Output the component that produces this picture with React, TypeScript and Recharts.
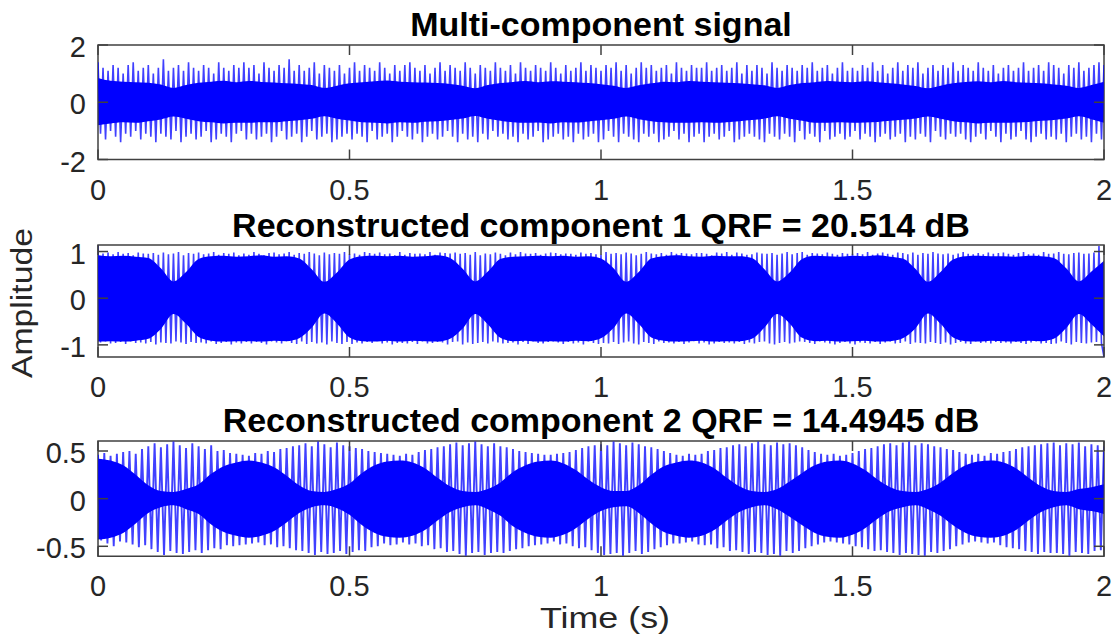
import React from 'react';
import { ComposedChart, Line, Area, XAxis, YAxis, ReferenceArea } from 'recharts';

// ---------------- DATA ----------------
const T_END = 2;
const TIME_TICKS = [0, 0.5, 1, 1.5, 2];
const X_LABEL = 'Time (s)';
const Y_LABEL = 'Amplitude';

const TITLES = [
  'Multi-component signal',
  'Reconstructed component 1 QRF = 20.514 dB',
  'Reconstructed component 2 QRF = 14.4945 dB',
];

const TOP_Y_TICKS = [-2, 0, 2];
const MID_Y_TICKS = [-1, 0, 1];
const BOT_Y_TICKS = [-0.5, 0, 0.5];

const TOP_Y_DOMAIN = [-2, 2];
const MID_Y_DOMAIN = [-1.26, 1.14];
const BOT_Y_DOMAIN = [-0.605, 0.605];

// peak samples of the multi-component signal (evenly spaced over 0..2 s)
const TOP_SPIKES = [
  1.4,-1.1,1.2,-1.3,1.1,-1.0,1.3,-1.2,1.2,-1.4,1.0,-1.1,1.3,-1.2,1.4,-1.0,1.1,-1.3,1.2,-1.1,
  1.3,-1.2,1.0,-1.4,1.2,-1.1,1.5,-1.2,1.1,-1.3,1.2,-1.0,1.3,-1.4,1.1,-1.2,1.4,-1.1,1.2,-1.3,
  1.1,-1.2,1.3,-1.0,1.2,-1.4,1.0,-1.3,1.4,-1.1,1.2,-1.2,1.1,-1.4,1.3,-1.1,1.2,-1.0,1.4,-1.3,
  1.2,-1.1,1.3,-1.3,1.0,-1.2,1.4,-1.1,1.2,-1.4,1.1,-1.2,1.3,-1.0,1.2,-1.3,1.5,-1.2,1.1,-1.1,
  1.3,-1.4,1.1,-1.2,1.2,-1.0,1.4,-1.3,1.0,-1.2,1.3,-1.1,1.2,-1.4,1.1,-1.3,1.3,-1.2,1.0,-1.1,
  1.2,-1.3,1.4,-1.1,1.1,-1.2,1.3,-1.4,1.2,-1.0,1.1,-1.3,1.4,-1.2,1.2,-1.1,1.0,-1.4,1.3,-1.2,
  1.1,-1.0,1.3,-1.2,1.4,-1.3,1.2,-1.1,1.1,-1.4,1.3,-1.2,1.0,-1.1,1.2,-1.3,1.4,-1.2,1.1,-1.0,
  1.3,-1.2,1.2,-1.4,1.1,-1.1,1.4,-1.3,1.2,-1.2,1.0,-1.4,1.3,-1.1,1.2,-1.3,1.1,-1.0,1.4,-1.2,
  1.2,-1.1,1.1,-1.3,1.3,-1.2,1.0,-1.4,1.4,-1.1,1.2,-1.3,1.1,-1.2,1.3,-1.0,1.2,-1.4,1.1,-1.3,
  1.4,-1.2,1.2,-1.1,1.0,-1.3,1.3,-1.2,1.1,-1.4,1.2,-1.1,1.4,-1.3,1.1,-1.2,1.3,-1.1,1.2,-1.4,
  1.1,-1.3,1.3,-1.0,1.2,-1.2,1.4,-1.4,1.1,-1.1,1.3,-1.2,1.0,-1.3,1.2,-1.4,1.4,-1.1,1.2,-1.2,
  1.3,-1.1,1.1,-1.4,1.2,-1.3,1.3,-1.2,1.0,-1.0,1.4,-1.3,1.2,-1.1,1.1,-1.4,1.3,-1.2,1.2,-1.1,
  1.2,-1.4,1.4,-1.2,1.1,-1.1,1.2,-1.3,1.3,-1.2,1.1,-1.0,1.2,-1.4,1.4,-1.3,1.0,-1.2,1.3,-1.1,
  1.1,-1.2,1.3,-1.3,1.2,-1.4,1.0,-1.1,1.4,-1.2,1.2,-1.3,1.1,-1.1,1.3,-1.2,1.2,-1.4,1.1,-1.0,
  1.3,-1.3,1.2,-1.1,1.4,-1.2,1.1,-1.4,1.2,-1.0,1.3,-1.3,1.0,-1.2,1.2,-1.1,1.4,-1.3,1.1,-1.2,
  1.2,-1.0,1.1,-1.3,1.3,-1.1,1.2,-1.2,1.4,-1.4,1.1,-1.2,1.3,-1.1,1.0,-1.3,1.2,-1.2,1.4,-1.1,
  1.1,-1.4,1.3,-1.2,1.2,-1.3,1.4,-1.1,1.0,-1.2,1.2,-1.4,1.3,-1.0,1.1,-1.2,1.3,-1.3,1.2,-1.1,
  1.4,-1.2,1.1,-1.1,1.3,-1.3,1.2,-1.4,1.1,-1.2,1.4,-1.1,1.2,-1.3,1.1,-1.0,1.3,-1.2,1.0,-1.4,
  1.2,-1.1,1.3,-1.3,1.1,-1.2,1.2,-1.0,1.4,-1.3,1.1,-1.4,1.2,-1.2,1.3,-1.1,1.1,-1.3,1.4,-1.2,
  1.3,-1.3,1.2,-1.1,1.0,-1.4,1.3,-1.2,1.2,-1.1,1.4,-1.3,1.1,-1.2,1.2,-1.4,1.3,-1.1,1.4,-1.3,
  1.3,
];

// dense-core envelope of the multi-component signal (every 0.025 s)
const TOP_CORE_HI = [
  0.85,0.75,0.72,0.7,0.68,0.62,0.5,0.6,0.68,0.72,0.75,0.7,
  0.74,0.71,0.69,0.66,0.64,0.6,0.5,0.58,0.66,0.7,0.73,0.76,
  0.72,0.7,0.69,0.67,0.64,0.58,0.49,0.6,0.67,0.71,0.74,0.7,
  0.73,0.72,0.7,0.67,0.63,0.58,0.5,0.59,0.66,0.72,0.7,0.74,
  0.72,0.7,0.68,0.66,0.63,0.59,0.5,0.6,0.67,0.7,0.74,0.72,
  0.7,0.73,0.7,0.66,0.62,0.57,0.49,0.58,0.66,0.71,0.73,0.7,
  0.74,0.7,0.68,0.66,0.62,0.58,0.5,0.6,0.72,
];
const TOP_CORE_LO = [
  -0.8,-0.74,-0.7,-0.72,-0.66,-0.6,-0.5,-0.58,-0.66,-0.7,-0.74,-0.72,
  -0.72,-0.7,-0.7,-0.66,-0.63,-0.58,-0.49,-0.58,-0.64,-0.7,-0.72,-0.74,
  -0.7,-0.72,-0.68,-0.66,-0.62,-0.57,-0.48,-0.58,-0.65,-0.7,-0.72,-0.71,
  -0.74,-0.7,-0.71,-0.67,-0.63,-0.58,-0.5,-0.59,-0.66,-0.7,-0.72,-0.72,
  -0.7,-0.72,-0.7,-0.66,-0.62,-0.57,-0.49,-0.58,-0.65,-0.72,-0.72,-0.7,
  -0.72,-0.71,-0.69,-0.65,-0.61,-0.57,-0.5,-0.58,-0.66,-0.7,-0.74,-0.72,
  -0.72,-0.71,-0.69,-0.65,-0.62,-0.57,-0.49,-0.59,-0.72,
];

// peak samples of reconstructed component 1
const MID_SPIKES = [
  1.13,-0.95,0.96,-0.93,0.98,-0.97,0.94,-0.96,0.99,-0.94,0.95,-0.98,0.97,-0.93,0.92,-0.96,0.98,-0.95,0.96,-0.97,
  0.95,-0.94,0.97,-0.99,0.93,-0.95,0.98,-0.96,0.94,-0.97,0.96,-0.93,0.99,-0.95,0.92,-0.98,0.97,-0.94,0.95,-0.96,
  0.98,-0.95,0.94,-0.97,0.96,-0.93,0.99,-0.98,0.93,-0.96,0.97,-0.94,0.95,-0.99,0.98,-0.95,0.92,-0.97,0.96,-0.94,
  0.93,-0.97,0.99,-0.94,0.95,-0.96,0.92,-0.99,0.97,-0.93,0.98,-0.95,0.94,-0.97,0.96,-0.92,0.99,-0.96,0.93,-0.98,
  0.97,-0.93,0.95,-0.98,0.99,-0.94,0.96,-0.97,0.92,-0.95,0.98,-0.99,0.94,-0.93,0.97,-0.96,0.95,-0.98,0.99,-0.94,
  0.94,-0.98,0.96,-0.95,0.93,-0.97,0.99,-0.94,0.97,-0.96,0.95,-0.92,0.98,-0.97,0.94,-0.95,0.96,-0.99,0.92,-0.96,
  0.99,-0.96,0.93,-0.97,0.97,-0.94,0.95,-0.98,0.96,-0.93,0.94,-0.97,0.99,-0.96,0.93,-0.94,0.98,-0.95,0.97,-0.99,
  0.96,-0.94,0.98,-0.93,0.95,-0.99,0.97,-0.95,0.93,-0.98,0.99,-0.96,0.92,-0.94,0.96,-0.97,0.94,-0.93,0.98,-0.95,
  0.95,-0.97,0.92,-0.96,0.98,-0.95,0.94,-0.99,0.99,-0.94,0.96,-0.98,0.95,-0.93,0.97,-0.96,0.93,-0.97,0.96,-0.94,
  0.98,-0.93,0.97,-0.95,0.94,-0.98,0.96,-0.94,0.95,-0.97,0.93,-0.95,0.98,-0.99,0.95,-0.93,0.97,-0.96,0.94,-0.98,
  0.93,-0.96,0.99,-0.97,0.95,-0.94,0.97,-0.98,0.94,-0.95,0.98,-0.93,0.96,-0.97,0.92,-0.99,0.95,-0.94,0.99,-0.96,
  0.96,-0.98,0.94,-0.93,0.97,-0.96,0.93,-0.95,0.99,-0.97,0.95,-0.94,0.97,-0.98,0.96,-0.95,0.94,-0.92,0.97,-0.97,
  0.97,-0.95,0.95,-0.99,0.92,-0.97,0.98,-0.94,0.96,-0.96,0.99,-0.95,0.93,-0.97,0.98,-0.94,0.96,-0.98,0.93,-0.95,
  0.94,-0.97,0.98,-0.94,0.96,-0.93,0.95,-0.97,0.97,-0.99,0.93,-0.96,0.96,-0.94,0.99,-0.97,0.94,-0.95,0.97,-0.93,
  0.99,-0.94,0.93,-0.96,0.97,-0.98,0.96,-0.93,0.94,-0.95,0.98,-0.97,0.95,-0.99,0.93,-0.96,0.97,-0.94,0.95,-0.97,
  0.95,-0.99,0.97,-0.95,0.94,-0.96,0.99,-0.97,0.93,-0.94,0.96,-0.98,0.98,-0.95,0.95,-0.93,0.93,-0.97,0.98,-0.96,
  0.97,-0.93,0.94,-0.98,0.98,-0.95,0.93,-0.96,0.97,-0.97,0.95,-0.94,0.99,-0.96,0.96,-0.98,0.94,-0.95,0.96,-0.99,
  0.93,-0.96,0.96,-0.94,0.99,-0.97,0.95,-0.98,0.94,-0.93,0.97,-0.96,0.94,-0.95,0.98,-0.97,0.95,-0.94,0.97,-0.96,
  0.98,-0.95,0.95,-0.97,0.93,-0.94,0.97,-0.96,0.99,-0.98,0.94,-0.95,0.96,-0.93,0.93,-0.97,0.99,-0.96,0.95,-0.98,
  0.96,-0.97,0.99,-0.93,0.95,-0.96,0.94,-0.99,0.97,-0.94,0.98,-0.96,0.95,-0.97,0.96,-0.95,0.98,-0.94,1.12,-0.97,
  -1.26,
];

const MID_CORE_HI = [
  0.92,0.9,0.91,0.89,0.86,0.64,0.36,0.56,0.84,0.9,0.91,0.89,
  0.9,0.92,0.89,0.9,0.85,0.62,0.35,0.55,0.83,0.9,0.91,0.9,
  0.91,0.89,0.9,0.92,0.86,0.63,0.36,0.57,0.84,0.89,0.9,0.91,
  0.9,0.91,0.89,0.9,0.85,0.64,0.35,0.56,0.85,0.9,0.92,0.9,
  0.89,0.91,0.9,0.9,0.86,0.62,0.36,0.55,0.84,0.91,0.9,0.89,
  0.91,0.9,0.92,0.89,0.85,0.63,0.35,0.56,0.83,0.9,0.91,0.9,
  0.9,0.89,0.91,0.9,0.86,0.64,0.36,0.57,0.8,
];
const MID_CORE_LO = [
  -0.93,-0.92,-0.93,-0.91,-0.87,-0.66,-0.34,-0.55,-0.83,-0.91,-0.93,-0.92,
  -0.92,-0.93,-0.91,-0.92,-0.86,-0.63,-0.33,-0.54,-0.84,-0.92,-0.93,-0.91,
  -0.93,-0.91,-0.92,-0.93,-0.87,-0.65,-0.34,-0.56,-0.85,-0.92,-0.91,-0.93,
  -0.92,-0.93,-0.91,-0.92,-0.86,-0.64,-0.33,-0.55,-0.84,-0.91,-0.93,-0.92,
  -0.91,-0.93,-0.92,-0.92,-0.87,-0.63,-0.34,-0.54,-0.85,-0.92,-0.91,-0.93,
  -0.92,-0.91,-0.93,-0.92,-0.86,-0.65,-0.33,-0.55,-0.84,-0.92,-0.93,-0.91,
  -0.92,-0.93,-0.91,-0.92,-0.87,-0.64,-0.34,-0.56,-0.82,
];

// peak samples of reconstructed component 2
const BOT_SPIKES = [
  0.46,-0.44,0.48,-0.47,0.45,-0.5,0.47,-0.45,0.49,-0.46,0.5,-0.48,0.47,-0.51,0.52,-0.49,
  0.55,-0.53,0.58,-0.56,0.54,-0.59,0.57,-0.55,0.6,-0.57,0.56,-0.58,0.53,-0.56,0.58,-0.54,
  0.55,-0.57,0.52,-0.54,0.56,-0.52,0.5,-0.53,0.51,-0.49,0.48,-0.5,0.47,-0.49,0.46,-0.48,
  0.45,-0.47,0.48,-0.46,0.47,-0.49,0.5,-0.48,0.49,-0.51,0.52,-0.5,0.53,-0.52,0.55,-0.54,
  0.56,-0.55,0.58,-0.57,0.55,-0.59,0.6,-0.56,0.57,-0.58,0.54,-0.57,0.59,-0.55,0.56,-0.58,
  0.55,-0.56,0.53,-0.54,0.52,-0.55,0.5,-0.51,0.49,-0.5,0.48,-0.47,0.47,-0.49,0.46,-0.48,
  0.45,-0.46,0.47,-0.48,0.46,-0.47,0.49,-0.5,0.51,-0.49,0.52,-0.53,0.54,-0.52,0.55,-0.56,
  0.57,-0.55,0.59,-0.58,0.56,-0.6,0.58,-0.57,0.6,-0.56,0.57,-0.59,0.55,-0.57,0.58,-0.56,
  0.55,-0.57,0.54,-0.55,0.52,-0.53,0.5,-0.52,0.49,-0.5,0.48,-0.49,0.47,-0.48,0.46,-0.47,
  0.46,-0.45,0.47,-0.48,0.48,-0.47,0.49,-0.5,0.51,-0.52,0.53,-0.51,0.55,-0.54,0.56,-0.57,
  0.57,-0.59,0.56,-0.58,0.6,-0.57,0.58,-0.6,0.56,-0.57,0.59,-0.55,0.57,-0.58,0.55,-0.56,
  0.54,-0.53,0.52,-0.51,0.5,-0.49,0.48,-0.47,0.46,-0.47,0.45,-0.46,0.47,-0.45,0.46,-0.48,
  0.47,-0.49,0.5,-0.48,0.51,-0.52,0.53,-0.51,0.54,-0.55,0.56,-0.54,0.57,-0.56,0.55,-0.58,
  0.58,-0.56,0.6,-0.57,0.57,-0.59,0.56,-0.58,0.59,-0.6,0.57,-0.55,0.58,-0.57,0.56,-0.55,
  0.54,-0.52,0.51,-0.5,0.49,-0.48,0.47,-0.46,0.46,-0.45,0.47,-0.46,0.45,-0.47,0.46,-0.48,
  0.48,-0.5,0.5,-0.51,0.52,-0.53,0.53,-0.55,0.55,-0.54,0.57,-0.56,0.58,-0.57,0.56,-0.59,
  0.59,-0.57,0.6,-0.58,0.56,-0.59,0.58,-0.6,0.57,-0.56,0.55,-0.57,0.54,-0.55,0.52,-0.53,
  0.51,-0.5,0.49,-0.48,0.47,-0.46,0.46,-0.45,0.47,-0.46,0.45,-0.47,0.48,-0.46,0.47,-0.49,
  0.49,-0.51,0.5,-0.52,0.52,-0.53,0.54,-0.55,0.55,-0.56,0.56,-0.58,0.57,-0.56,0.58,-0.57,
  0.59,-0.57,0.56,-0.58,0.58,-0.6,0.57,-0.56,0.59,-0.57,0.55,-0.58,0.57,-0.55,0.56,-0.54,
  0.55,
];

const BOT_CORE_HI = [
  0.42,0.4,0.35,0.25,0.14,0.08,0.07,0.1,
  0.15,0.26,0.34,0.38,0.4,0.38,0.33,0.24,0.14,0.08,0.07,0.1,
  0.16,0.27,0.35,0.39,0.4,0.38,0.32,0.22,0.13,0.08,0.07,0.1,
  0.17,0.28,0.35,0.39,0.4,0.37,0.3,0.2,0.12,0.08,0.08,0.14,
  0.25,0.34,0.38,0.4,0.38,0.32,0.22,0.13,0.08,0.07,0.1,0.18,
  0.27,0.35,0.39,0.4,0.37,0.3,0.2,0.12,0.08,0.07,0.1,0.17,
  0.27,0.35,0.39,0.4,0.38,0.32,0.22,0.13,0.08,0.07,0.1,0.12,0.15,
];
const BOT_CORE_LO = [
  -0.43,-0.41,-0.36,-0.26,-0.15,-0.09,-0.07,-0.11,
  -0.16,-0.27,-0.35,-0.39,-0.41,-0.39,-0.34,-0.25,-0.15,-0.09,-0.07,-0.1,
  -0.17,-0.28,-0.36,-0.4,-0.41,-0.39,-0.33,-0.23,-0.14,-0.09,-0.07,-0.11,
  -0.18,-0.29,-0.36,-0.4,-0.41,-0.38,-0.31,-0.21,-0.13,-0.09,-0.08,-0.15,
  -0.26,-0.35,-0.39,-0.41,-0.39,-0.33,-0.23,-0.14,-0.09,-0.07,-0.11,-0.19,
  -0.28,-0.36,-0.4,-0.41,-0.38,-0.31,-0.21,-0.13,-0.09,-0.07,-0.11,-0.18,
  -0.28,-0.36,-0.4,-0.41,-0.39,-0.33,-0.23,-0.14,-0.09,-0.07,-0.11,-0.13,-0.16,
];

// ---------------- helpers ----------------
const toSeries = (vals: number[]) => {
  const dt = T_END / (vals.length - 1);
  return vals.map((v, i) => ({ t: i * dt, v }));
};
const toBand = (lo: number[], hi: number[]) => {
  const dt = T_END / (lo.length - 1);
  return lo.map((l, i) => ({ t: i * dt, band: [l, hi[i]] }));
};

// ---------------- style / layout ----------------
const FONT = '"Liberation Sans", Arial, Helvetica, sans-serif';
const W = 1119;
const H = 644;
const LEFT = 98;
const RIGHT = 15;
const PLOT_W = W - LEFT - RIGHT;
const TICK_LEN = 10;
const TOP_PAD = 25;
const AXIS_COLOR = '#404040';
const TEXT_COLOR = '#262626';
const SIG_COLOR = '#0000ff';

const PANELS = [
  { title: TITLES[0], spikes: TOP_SPIKES, lo: TOP_CORE_LO, hi: TOP_CORE_HI, domain: TOP_Y_DOMAIN, yTicks: TOP_Y_TICKS, top: 44.5, bottom: 159, lineW: 1.6 },
  { title: TITLES[1], spikes: MID_SPIKES, lo: MID_CORE_LO, hi: MID_CORE_HI, domain: MID_Y_DOMAIN, yTicks: MID_Y_TICKS, top: 245, bottom: 357, lineW: 1.6 },
  { title: TITLES[2], spikes: BOT_SPIKES, lo: BOT_CORE_LO, hi: BOT_CORE_HI, domain: BOT_Y_DOMAIN, yTicks: BOT_Y_TICKS, top: 440.7, bottom: 556, lineW: 1.9 },
];

function Panel({ cfg }: { cfg: any }) {
  const plotH = cfg.bottom - cfg.top;
  const spikes = toSeries(cfg.spikes);
  const band = toBand(cfg.lo, cfg.hi);

  const XTick = (p: any) => {
    const { x, y, payload } = p;
    return (
      <g>
        <line x1={x} y1={y} x2={x} y2={y - TICK_LEN} stroke={AXIS_COLOR} strokeWidth={1.5} />
        <line x1={x} y1={y - plotH} x2={x} y2={y - plotH + TICK_LEN} stroke={AXIS_COLOR} strokeWidth={1.5} />
        <text x={x} y={y + 40} textAnchor="middle" fontFamily={FONT} fontSize={29} fill={TEXT_COLOR}>
          {String(payload.value)}
        </text>
      </g>
    );
  };
  const YTick = (p: any) => {
    const { x, y, payload } = p;
    return (
      <g>
        <line x1={x} y1={y} x2={x + TICK_LEN} y2={y} stroke={AXIS_COLOR} strokeWidth={1.5} />
        <line x1={x + PLOT_W - TICK_LEN} y1={y} x2={x + PLOT_W} y2={y} stroke={AXIS_COLOR} strokeWidth={1.5} />
        <text x={x - 12} y={y + 12} textAnchor="end" fontFamily={FONT} fontSize={29} fill={TEXT_COLOR}>
          {String(payload.value)}
        </text>
      </g>
    );
  };

  return (
    <div style={{ position: 'absolute', left: 0, top: cfg.top - TOP_PAD }}>
      <ComposedChart width={W} height={plotH + TOP_PAD + 50} margin={{ top: TOP_PAD, right: RIGHT, bottom: 0, left: 0 }}>
        <XAxis
          type="number"
          dataKey="t"
          domain={[0, T_END]}
          ticks={TIME_TICKS}
          tick={XTick}
          tickLine={false}
          axisLine={false}
          tickSize={0}
          tickMargin={0}
          height={50}
          interval={0}
          allowDataOverflow
        />
        <YAxis
          type="number"
          domain={cfg.domain}
          ticks={cfg.yTicks}
          tick={YTick}
          tickLine={false}
          axisLine={false}
          tickSize={0}
          tickMargin={0}
          width={LEFT}
          interval={0}
          allowDataOverflow
        />
        <Line
          data={spikes}
          dataKey="v"
          type="linear"
          stroke={SIG_COLOR}
          strokeWidth={cfg.lineW}
          strokeOpacity={0.75}
          dot={false}
          activeDot={false}
          isAnimationActive={false}
        />
        <Area
          data={band}
          dataKey="band"
          type="monotone"
          stroke="none"
          fill={SIG_COLOR}
          fillOpacity={1}
          dot={false}
          activeDot={false}
          isAnimationActive={false}
        />
        <ReferenceArea
          x1={0}
          x2={T_END}
          y1={cfg.domain[0]}
          y2={cfg.domain[1]}
          fill="none"
          fillOpacity={0}
          stroke={AXIS_COLOR}
          strokeWidth={1.5}
          ifOverflow="visible"
        />
      </ComposedChart>
    </div>
  );
}

export default function App() {
  const centerX = LEFT + PLOT_W / 2;
  return (
    <div style={{ position: 'absolute', left: 0, top: 0, width: W, height: H, background: '#ffffff', overflow: 'hidden' }}>
      {PANELS.map((p, i) => (
        <Panel key={i} cfg={p} />
      ))}
      <svg width={W} height={H} style={{ position: 'absolute', left: 0, top: 0, pointerEvents: 'none' }}>
        {PANELS.map((p, i) => (
          <text
            key={i}
            x={centerX}
            y={p.top - 8.5}
            textAnchor="middle"
            fontFamily={FONT}
            fontWeight="bold"
            fontSize={34}
            fill="#000000"
          >
            {p.title}
          </text>
        ))}
        <text
          x={605}
          y={628}
          textAnchor="middle"
          fontFamily={FONT}
          fontSize={29}
          fill={TEXT_COLOR}
          textLength={130}
          lengthAdjust="spacingAndGlyphs"
        >
          {X_LABEL}
        </text>
        <text
          transform="translate(32,303) rotate(-90)"
          x={0}
          y={0}
          textAnchor="middle"
          fontFamily={FONT}
          fontSize={29}
          fill={TEXT_COLOR}
          textLength={150}
          lengthAdjust="spacingAndGlyphs"
        >
          {Y_LABEL}
        </text>
      </svg>
    </div>
  );
}
